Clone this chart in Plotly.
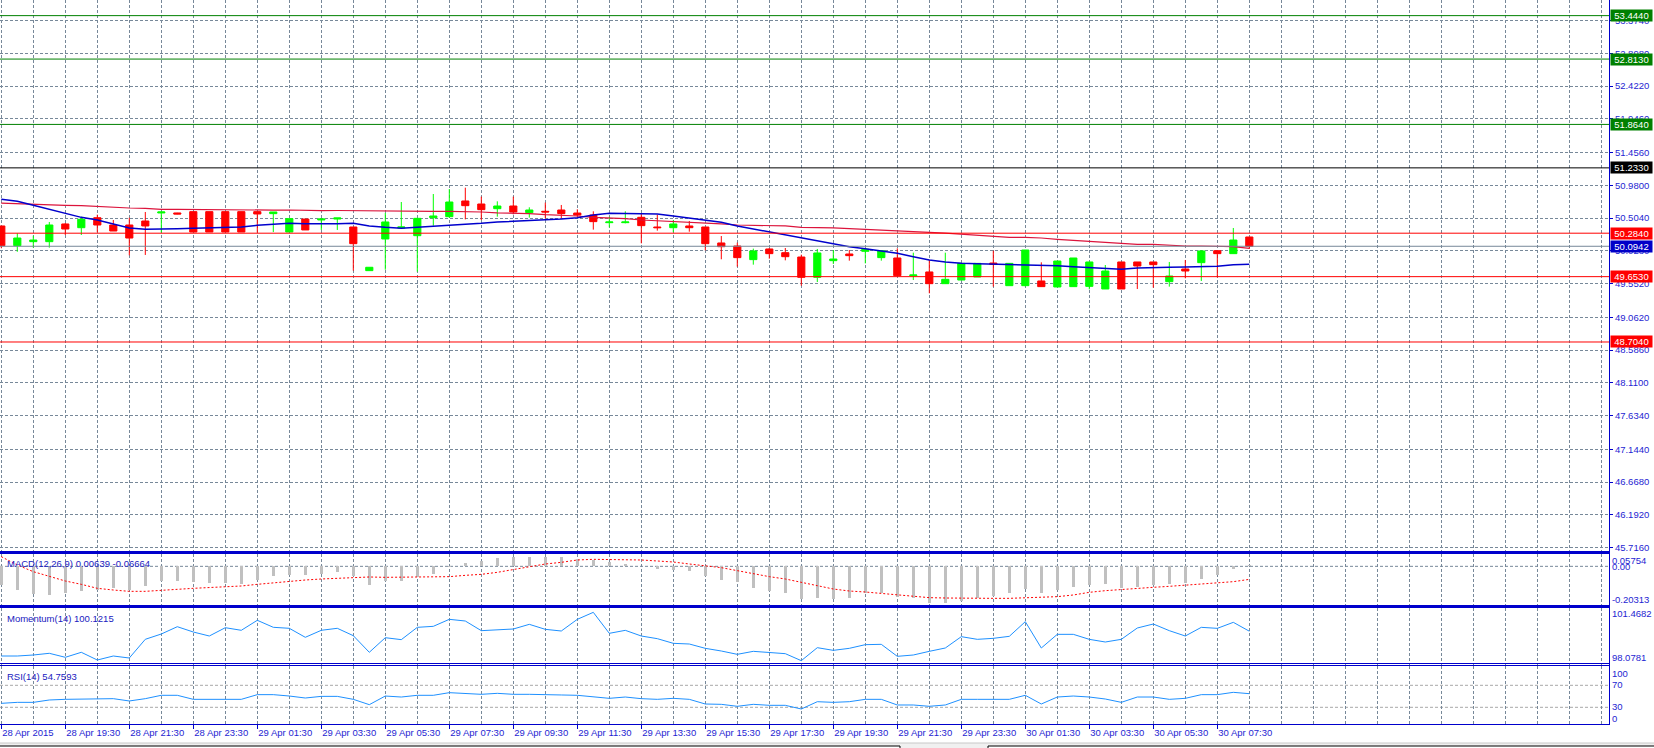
import plotly.graph_objects as go

# ---------------- data ----------------
bar_idx = list(range(79))  # 30-minute bars, 28 Apr 2015 17:30 .. 30 Apr 08:30

opens = [50.389, 50.103, 50.161, 50.161, 50.418, 50.364, 50.509, 50.403, 50.403, 50.461,
         50.578, 50.578, 50.597, 50.597, 50.597, 50.597, 50.597, 50.568, 50.301, 50.490,
         50.476, 50.490, 50.374, 49.740, 50.200, 50.360, 50.248, 50.509, 50.524, 50.752,
         50.708, 50.640, 50.679, 50.582, 50.602, 50.621, 50.577, 50.548, 50.437, 50.437,
         50.515, 50.374, 50.364, 50.389, 50.374, 50.142, 50.098, 49.900, 50.055, 50.001,
         49.938, 49.643, 49.885, 49.982, 50.021, 49.929, 49.924, 49.667, 49.721, 49.551,
         49.604, 49.648, 49.851, 49.522, 49.522, 49.590, 49.503, 49.508, 49.512, 49.474,
         49.866, 49.866, 49.866, 49.580, 49.764, 49.856, 50.030, 49.987, 50.229]
highs = [50.389, 50.283, 50.248, 50.447, 50.432, 50.524, 50.553, 50.476, 50.509, 50.592,
         50.597, 50.580, 50.597, 50.597, 50.597, 50.597, 50.597, 50.592, 50.495, 50.490,
         50.490, 50.505, 50.374, 49.789, 50.578, 50.737, 50.505, 50.853, 50.926, 50.945,
         50.815, 50.747, 50.815, 50.660, 50.728, 50.694, 50.631, 50.602, 50.524, 50.602,
         50.573, 50.553, 50.476, 50.461, 50.374, 50.243, 50.147, 50.060, 50.069, 50.069,
         49.972, 50.055, 50.040, 50.040, 50.060, 50.030, 50.064, 50.001, 49.895, 50.001,
         49.851, 49.846, 50.030, 49.846, 50.040, 49.861, 49.880, 49.924, 49.866, 49.822,
         49.866, 49.866, 49.866, 49.866, 49.895, 50.040, 50.030, 50.360, 50.229]
lows = [50.065, 50.015, 50.074, 50.074, 50.258, 50.258, 50.297, 50.316, 49.963, 49.968,
        50.291, 50.560, 50.301, 50.301, 50.301, 50.301, 50.291, 50.301, 50.301, 50.331,
        50.331, 50.331, 49.740, 49.740, 49.754, 50.360, 49.725, 50.393, 50.509, 50.485,
        50.476, 50.524, 50.558, 50.510, 50.500, 50.500, 50.524, 50.336, 50.369, 50.427,
        50.137, 50.321, 50.297, 50.306, 50.035, 49.905, 49.798, 49.827, 49.914, 49.890,
        49.522, 49.575, 49.837, 49.885, 49.846, 49.885, 49.667, 49.604, 49.411, 49.551,
        49.604, 49.648, 49.508, 49.522, 49.512, 49.508, 49.503, 49.508, 49.469, 49.474,
        49.474, 49.474, 49.493, 49.508, 49.629, 49.590, 49.643, 49.987, 50.055]
closes = [50.103, 50.214, 50.185, 50.403, 50.345, 50.486, 50.403, 50.316, 50.214, 50.389,
          50.592, 50.563, 50.301, 50.301, 50.301, 50.301, 50.563, 50.592, 50.495, 50.331,
          50.490, 50.505, 50.132, 49.789, 50.447, 50.374, 50.500, 50.534, 50.737, 50.684,
          50.626, 50.679, 50.592, 50.621, 50.592, 50.568, 50.548, 50.452, 50.447, 50.447,
          50.394, 50.364, 50.418, 50.364, 50.132, 50.088, 49.929, 50.026, 49.987, 49.943,
          49.643, 49.997, 49.909, 49.958, 50.050, 50.030, 49.667, 49.677, 49.551, 49.614,
          49.846, 49.846, 49.832, 49.846, 50.040, 49.508, 49.880, 49.924, 49.866, 49.735,
          49.474, 49.808, 49.827, 49.662, 49.735, 50.026, 49.987, 50.185, 50.0942]

ma_fast = [50.776, 50.747, 50.689, 50.631, 50.568, 50.514, 50.476, 50.413, 50.360, 50.340,
           50.340, 50.350, 50.355, 50.364, 50.369, 50.374, 50.398, 50.413, 50.427, 50.422,
           50.418, 50.422, 50.427, 50.389, 50.369, 50.355, 50.369, 50.382, 50.405, 50.418,
           50.427, 50.447, 50.456, 50.466, 50.481, 50.490, 50.510, 50.548, 50.573, 50.573,
           50.573, 50.563, 50.534, 50.500, 50.476, 50.442, 50.389, 50.345, 50.302, 50.258,
           50.210, 50.166, 50.132, 50.088, 50.059, 50.030, 49.992, 49.943, 49.895, 49.866,
           49.846, 49.842, 49.837, 49.832, 49.827, 49.822, 49.812, 49.798, 49.788, 49.774,
           49.759, 49.779, 49.788, 49.788, 49.793, 49.803, 49.803, 49.827, 49.832]
ma_slow = [50.722, 50.712, 50.703, 50.698, 50.689, 50.684, 50.669, 50.665, 50.650, 50.645,
           50.631, 50.631, 50.628, 50.621, 50.619, 50.616, 50.616, 50.619, 50.621, 50.611,
           50.611, 50.614, 50.611, 50.604, 50.602, 50.602, 50.602, 50.602, 50.602, 50.600,
           50.592, 50.580, 50.577, 50.568, 50.553, 50.548, 50.534, 50.515, 50.510, 50.495,
           50.476, 50.466, 50.452, 50.442, 50.427, 50.418, 50.403, 50.398, 50.398, 50.389,
           50.369, 50.369, 50.360, 50.350, 50.340, 50.336, 50.326, 50.311, 50.297, 50.285,
           50.272, 50.253, 50.239, 50.224, 50.222, 50.214, 50.195, 50.180, 50.166, 50.151,
           50.137, 50.122, 50.122, 50.108, 50.098, 50.098, 50.088, 50.088, 50.064]

macd_hist = [-0.0937, -0.1227, -0.1397, -0.1448, -0.1363, -0.1278, -0.1193, -0.1107, -0.1193, -0.1022,
             -0.0767, -0.0767, -0.0818, -0.0852, -0.0852, -0.0903, -0.0681, -0.0511, -0.0426, -0.0460,
             -0.0375, -0.0307, -0.0511, -0.0971, -0.0767, -0.0733, -0.0562, -0.0375, -0.0030, 0.0187,
             0.0273, 0.0426, 0.0460, 0.0494, 0.0494, 0.0460, 0.0375, 0.0324, 0.0238, 0.0119,
             0.0010, -0.0119, -0.0187, -0.0239, -0.0477, -0.0699, -0.0818, -0.1090, -0.1244, -0.1346,
             -0.1687, -0.1601, -0.1687, -0.1601, -0.1380, -0.1346, -0.1584, -0.1636, -0.1857, -0.1891,
             -0.1755, -0.1636, -0.1516, -0.1380, -0.1159, -0.1346, -0.1210, -0.1039, -0.0954, -0.0920,
             -0.1124, -0.1039, -0.0954, -0.0920, -0.0869, -0.0647, -0.0443, -0.0136, 0.00639]
macd_signal = [0.0494, 0.0068, -0.0273, -0.0494, -0.0750, -0.0920, -0.1124, -0.1210, -0.1278, -0.1278,
               -0.1244, -0.1176, -0.1124, -0.1090, -0.1056, -0.1005, -0.0920, -0.0835, -0.0767, -0.0699,
               -0.0647, -0.0613, -0.0562, -0.0545, -0.0562, -0.0562, -0.0562, -0.0562, -0.0528, -0.0460,
               -0.0409, -0.0307, -0.0153, -0.0017, 0.0119, 0.0204, 0.0324, 0.0358, 0.0358, 0.0358,
               0.0324, 0.0273, 0.0221, 0.0119, 0.0017, -0.0068, -0.0221, -0.0392, -0.0528, -0.0647,
               -0.0835, -0.0988, -0.1159, -0.1261, -0.1312, -0.1380, -0.1465, -0.1550, -0.1601, -0.1619,
               -0.1636, -0.1636, -0.1636, -0.1636, -0.1601, -0.1584, -0.1550, -0.1465, -0.1329, -0.1244,
               -0.1176, -0.1124, -0.1073, -0.1022, -0.0954, -0.0903, -0.0852, -0.0784, -0.06664]

momentum = [98.180, 98.180, 98.258, 98.391, 98.078, 98.470, 97.867, 98.180, 98.024, 99.487,
            99.902, 100.474, 100.059, 99.746, 100.396, 100.192, 100.975, 100.427, 100.349, 99.644,
            100.192, 100.349, 99.771, 98.470, 99.613, 99.460, 100.424, 100.503, 101.051, 100.920,
            100.163, 100.216, 100.294, 100.659, 100.268, 100.137, 101.051, 101.599, 99.954, 100.189,
            99.746, 99.537, 99.172, 99.119, 98.780, 98.571, 98.310, 98.545, 98.441, 98.363,
            97.815, 98.832, 98.623, 98.780, 99.067, 99.093, 98.154, 98.258, 98.545, 98.806,
            99.694, 99.485, 99.563, 99.720, 100.868, 98.806, 99.876, 99.876, 99.485, 99.276,
            99.485, 100.372, 100.685, 100.163, 99.746, 100.424, 100.346, 100.816, 100.1215]

rsi = [37.2, 39.0, 39.0, 43.3, 44.5, 44.5, 45.7, 45.7, 41.5, 45.7,
       51.8, 51.8, 44.5, 44.5, 44.5, 44.5, 53.0, 53.0, 50.5, 46.9,
       49.9, 49.9, 44.5, 34.8, 50.5, 48.7, 51.8, 51.8, 56.6, 55.4,
       53.6, 55.4, 53.6, 53.6, 53.6, 52.4, 51.8, 48.7, 46.3, 48.7,
       45.7, 44.5, 46.3, 44.5, 36.0, 35.4, 31.8, 35.4, 33.6, 33.6,
       26.9, 40.2, 39.0, 40.2, 44.5, 44.5, 34.2, 34.2, 31.8, 34.2,
       44.5, 44.5, 44.5, 44.5, 51.8, 36.0, 48.7, 50.5, 48.7, 45.1,
       39.0, 48.7, 48.7, 44.5, 46.3, 53.0, 53.0, 57.2, 54.7593]

x_tick_idx = [0, 4, 8, 12, 16, 20, 24, 28, 32, 36, 40, 44, 48, 52, 56, 60, 64, 68, 72, 76]
x_tick_text = ["28 Apr 2015", "28 Apr 19:30", "28 Apr 21:30", "28 Apr 23:30", "29 Apr 01:30",
               "29 Apr 03:30", "29 Apr 05:30", "29 Apr 07:30", "29 Apr 09:30", "29 Apr 11:30",
               "29 Apr 13:30", "29 Apr 15:30", "29 Apr 17:30", "29 Apr 19:30", "29 Apr 21:30",
               "29 Apr 23:30", "30 Apr 01:30", "30 Apr 03:30", "30 Apr 05:30", "30 Apr 07:30"]

price_ticks = [53.374, 52.898, 52.422, 51.946, 51.456, 50.980, 50.504, 50.028, 49.552,
               49.062, 48.586, 48.110, 47.634, 47.144, 46.668, 46.192, 45.716]

level_values = [53.444, 52.813, 51.864, 51.233, 50.284, 49.653, 48.704]
level_colors = ["#008000", "#008000", "#008000", "#000000", "#FF0000", "#FF0000", "#FF0000"]
bid_price = 50.0942

# ---------------- style ----------------
FONT = "Liberation Sans, Arial, sans-serif"
TXT = "#1E1ED2"
BORDER = "#0000CC"
GRID = "#778899"
DASH = "3px,2px"
FS = 9.5
XR = [-0.08125, 100.48]

fig = go.Figure()

fig.add_trace(go.Candlestick(
    x=bar_idx, open=opens, high=highs, low=lows, close=closes,
    increasing=dict(line=dict(color="#00FF00", width=1), fillcolor="#00FF00"),
    decreasing=dict(line=dict(color="#FF0000", width=1), fillcolor="#FF0000"),
    whiskerwidth=0, xaxis="x", yaxis="y", showlegend=False, hoverinfo="skip"))
fig.add_trace(go.Scatter(x=bar_idx, y=ma_slow, mode="lines", line=dict(color="#DC143C", width=1.2),
                         xaxis="x", yaxis="y", showlegend=False, hoverinfo="skip"))
fig.add_trace(go.Scatter(x=bar_idx, y=ma_fast, mode="lines", line=dict(color="#0000CC", width=1.5),
                         xaxis="x", yaxis="y", showlegend=False, hoverinfo="skip"))

fig.add_trace(go.Bar(x=bar_idx, y=macd_hist, width=0.19, marker=dict(color="#C0C0C0", line=dict(width=0)),
                     xaxis="x2", yaxis="y2", showlegend=False, hoverinfo="skip"))
fig.add_trace(go.Scatter(x=bar_idx, y=macd_signal, mode="lines",
                         line=dict(color="#FF0000", width=1, dash="2px,2px"),
                         xaxis="x2", yaxis="y2", showlegend=False, hoverinfo="skip"))
fig.add_trace(go.Scatter(x=bar_idx, y=momentum, mode="lines", line=dict(color="#1E90FF", width=1),
                         xaxis="x3", yaxis="y3", showlegend=False, hoverinfo="skip"))
fig.add_trace(go.Scatter(x=bar_idx, y=rsi, mode="lines", line=dict(color="#1E90FF", width=1),
                         xaxis="x4", yaxis="y4", showlegend=False, hoverinfo="skip"))

H = 724.0
def dom(top_px, bot_px):
    return [1 - bot_px / H, 1 - top_px / H]

def xaxis_common(anchor, labels=False):
    d = dict(range=XR, anchor=anchor, showline=True, mirror=True, linecolor=BORDER, linewidth=1,
             zeroline=False, tickmode="array", tickvals=x_tick_idx,
             showgrid=True, gridcolor=GRID, griddash=DASH, gridwidth=1,
             minor=dict(tickmode="linear", tick0=0, dtick=2, showgrid=True, gridcolor=GRID,
                        griddash=DASH, gridwidth=1, ticks=""),
             fixedrange=True)
    if labels:
        d.update(ticktext=x_tick_text, showticklabels=True, ticks="outside", ticklen=4,
                 tickcolor=BORDER, ticklabelposition="outside right",
                 tickfont=dict(family=FONT, size=FS, color=TXT))
    else:
        d.update(showticklabels=False, ticks="")
    return d

def yaxis_common(domain, rng, anchor):
    return dict(domain=domain, range=rng, anchor=anchor, side="right", showline=True, mirror=True,
                linecolor=BORDER, linewidth=1, zeroline=False, showgrid=False,
                tickfont=dict(family=FONT, size=FS, color=TXT), fixedrange=True)

ya = yaxis_common(dom(0, 551.5), [45.661, 53.671], "x")
ya.update(tickmode="array", tickvals=price_ticks, ticktext=[f"{v:.4f}" for v in price_ticks],
          showgrid=True, gridcolor=GRID, griddash=DASH, gridwidth=1,
          ticks="outside", ticklen=3, tickcolor=BORDER)
ya2 = yaxis_common(dom(553.5, 605.5), [-0.20019, 0.06557], "x2")
ya2.update(tickmode="array", tickvals=[0.031, 0.0, -0.1685], ticktext=["0.05754", "0.00", "-0.20313"], ticks="")
ya3 = yaxis_common(dom(607.5, 664.5), [97.515, 101.977], "x3")
ya3.update(tickmode="array", tickvals=[101.4682, 98.0781], ticktext=["101.4682", "98.0781"], ticks="")
ya4 = yaxis_common(dom(665.5, 724), [-0.36, 106.0], "x4")
ya4.update(tickmode="array", tickvals=[91.8, 70.5, 31.0, 10.0], ticktext=["100", "70", "30", "0"], ticks="")

shapes = []
for v, c in zip(level_values, level_colors):
    shapes.append(dict(type="line", xref="x domain", yref="y", x0=0, x1=1, y0=v, y1=v,
                       line=dict(color=c, width=1)))
shapes.append(dict(type="line", xref="x domain", yref="y", x0=0, x1=1, y0=bid_price, y1=bid_price,
                   line=dict(color=GRID, width=1)))
shapes.append(dict(type="line", xref="x2 domain", yref="y2", x0=0, x1=1, y0=0, y1=0,
                   line=dict(color=GRID, width=1, dash=DASH), layer="below"))
for lv in [70, 30]:
    shapes.append(dict(type="line", xref="x4 domain", yref="y4", x0=0, x1=1, y0=lv, y1=lv,
                       line=dict(color="#A8A8A8", width=1, dash=DASH), layer="below"))
# double border look between panels
for top_px in [553.5, 607.5, 665.5]:
    shapes.append(dict(type="line", xref="paper", yref="paper", x0=0, x1=1,
                       y0=1 - (top_px - 2) / H, y1=1 - (top_px - 2) / H,
                       line=dict(color=BORDER, width=1)))
W = 1609.0
def py(p):
    return 1 - p / H
shapes.append(dict(type="rect", xref="paper", yref="paper", x0=0, x1=1654 / W, y0=py(748), y1=py(743),
                   fillcolor="#F0F0F0", line=dict(width=0)))
shapes.append(dict(type="line", xref="paper", yref="paper", x0=0, x1=1654 / W, y0=py(743), y1=py(743),
                   line=dict(color="#C8C8C8", width=1)))
shapes.append(dict(type="rect", xref="paper", yref="paper", x0=-0.01, x1=900 / W, y0=py(752), y1=py(746),
                   fillcolor="#FFFFFF", line=dict(color="#000000", width=1)))
shapes.append(dict(type="rect", xref="paper", yref="paper", x0=988 / W, x1=1660 / W, y0=py(752), y1=py(746),
                   fillcolor="#FFFFFF", line=dict(color="#000000", width=1)))

annotations = []
for v, c in zip(level_values, level_colors):
    annotations.append(dict(xref="paper", yref="y", x=1, y=v, xanchor="left", xshift=1,
                            text=f"{v:.4f}", showarrow=False, bgcolor=c, width=41, height=11,
                            borderpad=0, font=dict(family=FONT, size=FS, color="#FFFFFF")))
annotations.append(dict(xref="paper", yref="y", x=1, y=bid_price, xanchor="left", xshift=1,
                        text=f"{bid_price:.4f}", showarrow=False, bgcolor="#0000C8", width=41, height=11,
                        borderpad=0, font=dict(family=FONT, size=FS, color="#FFFFFF")))
ind_labels = [("y2", f"MACD(12,26,9) {macd_hist[-1]:.5f} {macd_signal[-1]:.5f}", -2),
              ("y3", f"Momentum(14) {momentum[-1]:.4f}", -3),
              ("y4", f"RSI(14) {rsi[-1]:.4f}", -3)]
for yr, txt, ys in ind_labels:
    annotations.append(dict(xref="paper", yref=f"{yr} domain", x=5 / W, y=1, xanchor="left", yanchor="top",
                            yshift=ys, text=txt, showarrow=False,
                            font=dict(family=FONT, size=FS, color="#2020C0")))

fig.update_layout(
    width=1654, height=748, margin=dict(l=0, r=45, t=0, b=24),
    paper_bgcolor="#FFFFFF", plot_bgcolor="#FFFFFF",
    boxgap=0.36, bargap=0,
    xaxis=dict(**xaxis_common("y"), rangeslider=dict(visible=False)),
    xaxis2=dict(**xaxis_common("y2"), matches="x"),
    xaxis3=dict(**xaxis_common("y3"), matches="x"),
    xaxis4=dict(**xaxis_common("y4", labels=True), matches="x"),
    yaxis=ya, yaxis2=ya2, yaxis3=ya3, yaxis4=ya4,
    shapes=shapes, annotations=annotations,
    showlegend=False, hovermode=False,
)

fig.write_html("out.html", config=dict(displayModeBar=False, staticPlot=True))
